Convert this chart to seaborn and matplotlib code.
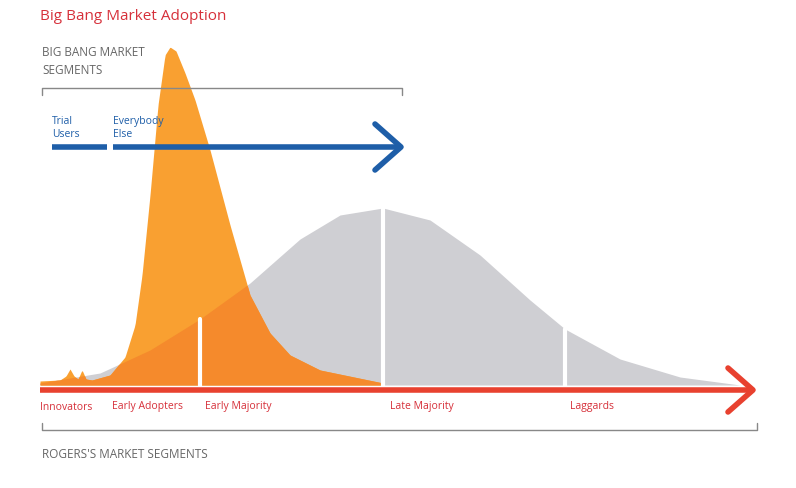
import numpy as np
import matplotlib.pyplot as plt
import seaborn as sns

sns.set_theme(style="white")
plt.rcParams['font.family'] = ['Open Sans', 'DejaVu Sans']

# Rogers bell curve (grey): x position, height above baseline
grey_x = [40, 100, 150, 200, 250, 300, 340, 383, 430, 480, 530, 565, 620, 680, 740]
grey_h = [2, 12, 35, 66, 102, 146, 170, 177, 165, 130, 85, 56, 26, 8, 0]
# Big bang curve (orange)
orange_x = [40, 60, 66, 70, 74, 78, 82, 86, 92, 110, 125, 135, 142, 150, 158, 165, 170,
            176, 185, 195, 210, 230, 250, 270, 290, 320, 383]
orange_h = [4, 5, 9, 16, 9, 6, 15, 6, 5, 10, 28, 60, 110, 190, 280, 330, 338,
            334, 312, 285, 235, 160, 90, 52, 30, 15, 2]

segments = ['Innovators', 'Early Adopters', 'Early Majority', 'Late Majority', 'Laggards']
segment_x = [40, 112, 205, 390, 570]
dividers = [200, 383, 565]

base = 385
fig = plt.figure(figsize=(7.96, 4.88), dpi=100)
ax = fig.add_axes([0, 0, 1, 1])
ax.set_xlim(0, 796)
ax.set_ylim(488, 0)
ax.axis('off')

xs = np.linspace(40, 745, 800)
g = np.interp(xs, grey_x, grey_h)
o = np.interp(xs, orange_x, orange_h, right=0)
ax.fill_between(xs, base - g, base, color='#cfcfd3', lw=0)
ax.fill_between(xs, base - o, base, color='#f9a031', lw=0)
ax.fill_between(xs, base - np.minimum(g, o), base, color='#f58a2c', lw=0)
for d in dividers:
    ax.plot([d, d], [base - np.interp(d, grey_x, grey_h), base + 2], color='white', lw=3)

# red axis arrow
ax.plot([40, 750], [390, 390], color='#e8412f', lw=4, solid_capstyle='butt')
ax.plot([728, 753, 728], [368, 390, 412], color='#e8412f', lw=4)
# blue arrow
ax.plot([52, 107], [147, 147], color='#1e5ea8', lw=4, solid_capstyle='butt')
ax.plot([113, 398], [147, 147], color='#1e5ea8', lw=4, solid_capstyle='butt')
ax.plot([375, 401, 375], [124, 147, 170], color='#1e5ea8', lw=4)

# brackets
ax.plot([42, 42, 402, 402], [95, 88, 88, 95], color='#888888', lw=1)
ax.plot([42, 42, 757, 757], [423, 430, 430, 423], color='#888888', lw=1)

ax.text(40, 17, 'Big Bang Market Adoption', color='#d6303a', fontsize=11, va='center')
ax.text(42, 62, 'BIG BANG MARKET\nSEGMENTS', color='#666666', fontsize=8.5,
        va='center', linespacing=1.5)
ax.text(52, 128, 'Trial\nUsers', color='#1e5ea8', fontsize=7.5, va='center')
ax.text(113, 128, 'Everybody\nElse', color='#1e5ea8', fontsize=7.5, va='center')
for s, x in zip(segments, segment_x):
    ax.text(x, 407, s, color='#d6303a', fontsize=7.5, va='center')
ax.text(42, 454, "ROGERS'S MARKET SEGMENTS", color='#666666', fontsize=8.5, va='center')

fig.savefig('out.png', dpi=100)
